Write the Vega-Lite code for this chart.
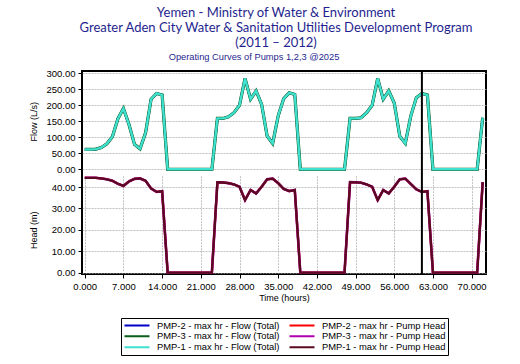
{
  "$schema": "https://vega.github.io/schema/vega-lite/v6.json",
  "background": "white",
  "padding": {"left": 27, "top": 7, "right": 5, "bottom": 5},
  "title": {
    "text": ["Yemen - Ministry of Water & Environment", "Greater Aden City Water & Sanitation Utilities Development Program", "(2011 – 2012)"],
    "font": "Lato", "fontSize": 13, "fontWeight": "normal", "color": "#1f1f8f", "lineHeight": 15, "anchor": "middle", "offset": 2, "dx": 17
  },
  "datasets": {
    "pump": [
      {"t": 0, "flow": 62, "head": 44.3}, {"t": 1, "flow": 62, "head": 44.3}, {"t": 2, "flow": 63, "head": 44.3},
      {"t": 3, "flow": 68, "head": 44.0}, {"t": 4, "flow": 80, "head": 43.6}, {"t": 5, "flow": 102, "head": 42.9},
      {"t": 6, "flow": 158, "head": 41.5}, {"t": 7, "flow": 190, "head": 40.5}, {"t": 8, "flow": 140, "head": 42.6},
      {"t": 9, "flow": 78, "head": 43.8}, {"t": 10, "flow": 64, "head": 44.0}, {"t": 11, "flow": 114, "head": 42.9},
      {"t": 12, "flow": 219, "head": 39.3}, {"t": 13, "flow": 237, "head": 37.7}, {"t": 14, "flow": 232, "head": 38.0},
      {"t": 15, "flow": 0, "head": 0}, {"t": 16, "flow": 0, "head": 0}, {"t": 17, "flow": 0, "head": 0},
      {"t": 18, "flow": 0, "head": 0}, {"t": 19, "flow": 0, "head": 0}, {"t": 20, "flow": 0, "head": 0},
      {"t": 21, "flow": 0, "head": 0}, {"t": 22, "flow": 0, "head": 0}, {"t": 23, "flow": 0, "head": 0},
      {"t": 24, "flow": 159, "head": 42.2}, {"t": 25, "flow": 159, "head": 42.1}, {"t": 26, "flow": 164, "head": 41.8},
      {"t": 27, "flow": 177, "head": 41.2}, {"t": 28, "flow": 200, "head": 40.1}, {"t": 29, "flow": 284, "head": 33.9},
      {"t": 30, "flow": 219, "head": 38.6}, {"t": 31, "flow": 245, "head": 37.0}, {"t": 32, "flow": 203, "head": 40.1},
      {"t": 33, "flow": 104, "head": 43.6}, {"t": 34, "flow": 81, "head": 43.9}, {"t": 35, "flow": 167, "head": 41.8},
      {"t": 36, "flow": 221, "head": 39.1}, {"t": 37, "flow": 239, "head": 38.1}, {"t": 38, "flow": 234, "head": 38.6},
      {"t": 39, "flow": 0, "head": 0}, {"t": 40, "flow": 0, "head": 0}, {"t": 41, "flow": 0, "head": 0},
      {"t": 42, "flow": 0, "head": 0}, {"t": 43, "flow": 0, "head": 0}, {"t": 44, "flow": 0, "head": 0},
      {"t": 45, "flow": 0, "head": 0}, {"t": 46, "flow": 0, "head": 0}, {"t": 47, "flow": 0, "head": 0},
      {"t": 48, "flow": 159, "head": 42.3}, {"t": 49, "flow": 159, "head": 42.2}, {"t": 50, "flow": 161, "head": 42.0},
      {"t": 51, "flow": 177, "head": 41.2}, {"t": 52, "flow": 200, "head": 40.1}, {"t": 53, "flow": 284, "head": 33.9},
      {"t": 54, "flow": 219, "head": 38.6}, {"t": 55, "flow": 245, "head": 37.0}, {"t": 56, "flow": 207, "head": 40.1},
      {"t": 57, "flow": 103, "head": 43.6}, {"t": 58, "flow": 81, "head": 43.9}, {"t": 59, "flow": 167, "head": 41.4},
      {"t": 60, "flow": 224, "head": 38.9}, {"t": 61, "flow": 237, "head": 37.7}, {"t": 62, "flow": 232, "head": 38.0},
      {"t": 63, "flow": 0, "head": 0}, {"t": 64, "flow": 0, "head": 0}, {"t": 65, "flow": 0, "head": 0},
      {"t": 66, "flow": 0, "head": 0}, {"t": 67, "flow": 0, "head": 0}, {"t": 68, "flow": 0, "head": 0},
      {"t": 69, "flow": 0, "head": 0}, {"t": 70, "flow": 0, "head": 0}, {"t": 71, "flow": 0, "head": 0},
      {"t": 72, "flow": 161, "head": 42.3}
    ],
    "marker": [{"t": 61}]
  },
  "vconcat": [
    {
      "title": {"text": "Operating Curves of Pumps 1,2,3 @2025", "font": "Liberation Sans", "fontSize": 9.3, "fontWeight": "normal", "color": "#1f1f8f", "anchor": "middle", "frame": "group", "dx": -30, "offset": 6},
      "width": 404,
      "height": 203,
      "data": {"name": "pump"},
      "layer": [
        {
          "encoding": {
            "x": {"field": "t", "type": "quantitative", "scale": {"domain": [-0.5, 72.6], "nice": false, "zero": false},
              "axis": {"values": [0, 7, 14, 21, 28, 35, 42, 49, 56, 63, 70], "format": ".3f", "title": "Time (hours)", "titlePadding": 3, "grid": true}},
            "y": {"field": "flow", "type": "quantitative", "scale": {"domain": [0, 300], "range": [98.3, 2.3], "nice": false, "zero": false},
              "axis": {"orient": "left", "values": [0, 50, 100, 150, 200, 250, 300], "format": ".2f", "title": "Flow (L/s)", "titleX": -49, "titleBaseline": "middle", "grid": true}}
          },
          "layer": [
            {"mark": {"type": "line", "strokeWidth": 2.4}, "encoding": {"color": {"datum": "PMP-2 - max hr - Flow (Total)", "type": "nominal",
              "scale": {"domain": ["PMP-2 - max hr - Flow (Total)", "PMP-2 - max hr - Pump Head", "PMP-3 - max hr - Flow (Total)", "PMP-3 - max hr - Pump Head", "PMP-1 - max hr - Flow (Total)", "PMP-1 - max hr - Pump Head"],
                "range": ["#0000c8", "#ff0000", "#0a5e1a", "#b000b0", "#40e0d0", "#5a0a1e"]},
              "legend": {"title": null, "orient": "bottom", "direction": "horizontal", "offset": 14, "columns": 2, "columnPadding": 8, "rowPadding": 0,
                "symbolType": "stroke", "symbolSize": 625, "clipHeight": 10.5, "symbolStrokeWidth": 2.2, "labelOffset": 6, "labelFont": "Liberation Sans", "labelFontSize": 9.4, "labelColor": "#000",
                "padding": 2, "strokeColor": "#000", "fillColor": "#fff"}}}},
            {"mark": {"type": "line", "strokeWidth": 3.2}, "encoding": {"color": {"datum": "PMP-3 - max hr - Flow (Total)", "type": "nominal"}}},
            {"mark": {"type": "line", "strokeWidth": 2.4}, "encoding": {"color": {"datum": "PMP-1 - max hr - Flow (Total)", "type": "nominal"}}}
          ]
        },
        {
          "encoding": {
            "x": {"field": "t", "type": "quantitative"},
            "y": {"field": "head", "type": "quantitative", "scale": {"domain": [0, 40], "range": [201.7, 116], "nice": false, "zero": false},
              "axis": {"orient": "left", "values": [0, 10, 20, 30, 40], "format": ".2f", "title": "Head (m)", "titleX": -49, "titleBaseline": "middle", "grid": true}}
          },
          "layer": [
            {"mark": {"type": "line", "strokeWidth": 2.2}, "encoding": {"color": {"datum": "PMP-2 - max hr - Pump Head", "type": "nominal"}}},
            {"mark": {"type": "line", "strokeWidth": 2.6}, "encoding": {"color": {"datum": "PMP-3 - max hr - Pump Head", "type": "nominal"}}},
            {"mark": {"type": "line", "strokeWidth": 2.3}, "encoding": {"color": {"datum": "PMP-1 - max hr - Pump Head", "type": "nominal"}}}
          ]
        },
        {
          "data": {"name": "marker"},
          "mark": {"type": "rule", "color": "#000", "strokeWidth": 2},
          "encoding": {"x": {"field": "t", "type": "quantitative"}}
        }
      ],
      "resolve": {"scale": {"y": "independent"}, "axis": {"y": "independent"}}
    }
  ],
  "config": {
    "view": {"stroke": "#000", "strokeWidth": 2},
    "legend": {"layout": {"bottom": {"anchor": "middle"}}},
    "axis": {
      "labelFont": "Liberation Sans", "labelFontSize": 9.5, "labelColor": "#000",
      "titleFont": "Liberation Sans", "titleFontSize": 9, "titleFontWeight": "normal", "titleColor": "#000",
      "tickColor": "#000", "tickSize": 4, "labelPadding": 3, "domain": false,
      "gridColor": "#a8a8a8", "gridDash": [2, 1], "gridWidth": 0.7
    }
  }
}
